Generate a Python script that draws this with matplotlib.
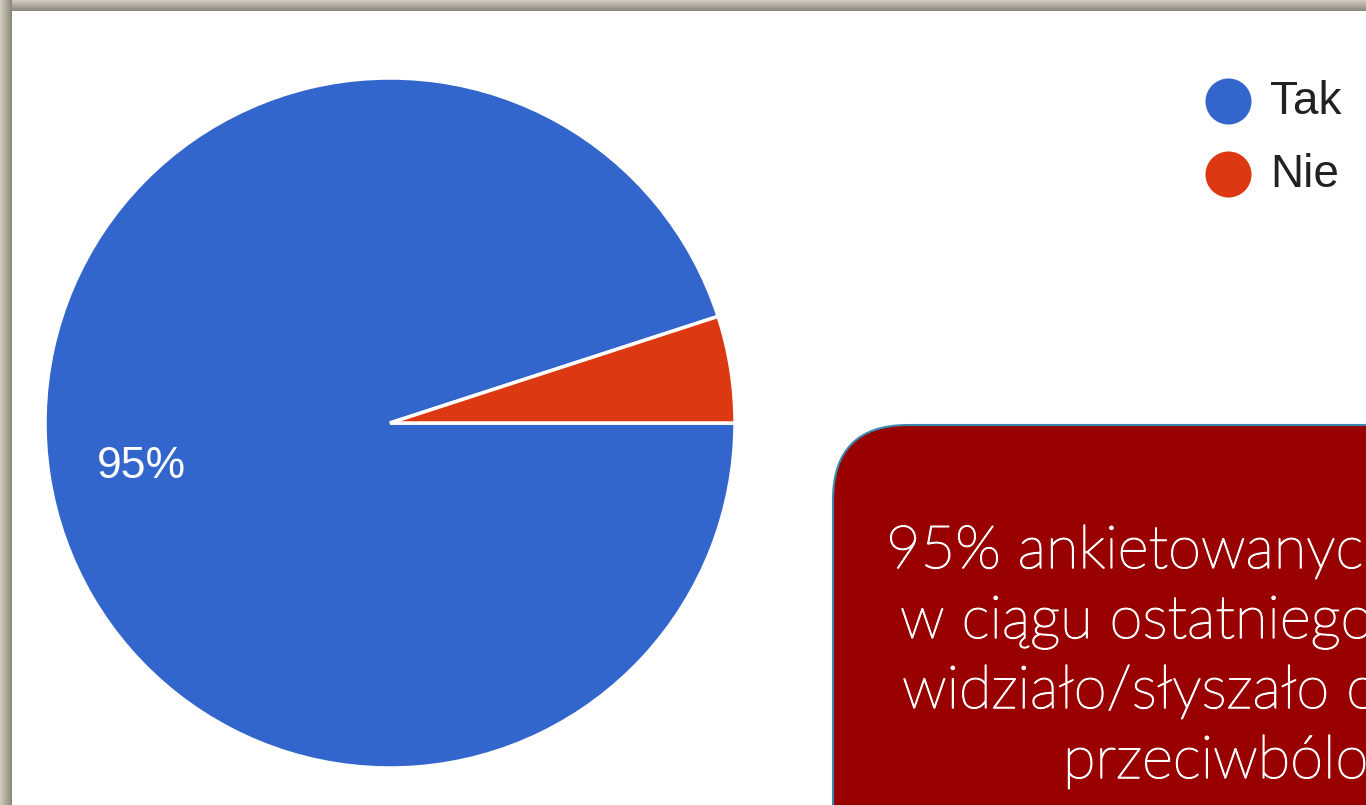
import matplotlib.pyplot as plt
import matplotlib.patheffects as pe
import numpy as np
from matplotlib.patches import FancyBboxPatch, Rectangle

labels = ['Tak', 'Nie']
values = [95, 5]
colors = ['#3366CC', '#DC3912']

box_lines = ['95% ankietowanych uczniów',
             'w ciągu ostatniego roku',
             'widziało/słyszało o lekach',
             'przeciwbólowych']
box_x = [886, 900, 902, 1063]

W, H = 1366, 805
fig = plt.figure(figsize=(W / 100, H / 100), dpi=100)
fig.patch.set_facecolor('white')

# full-figure axes in pixel units for the frame, legend and text box
bg = fig.add_axes([0, 0, 1, 1])
bg.set_xlim(0, W)
bg.set_ylim(H, 0)
bg.axis('off')

# shadowed frame along the top and left edges
grad = np.linspace(0, 1, 64)
shade = plt.matplotlib.colors.LinearSegmentedColormap.from_list(
    'shade', ['#D2CDC0', '#8A867A'])
bg.imshow(grad[:, None], cmap=shade, extent=(0, W, 11, 0), aspect='auto', zorder=1)
bg.imshow(grad[None, :], cmap=shade, extent=(0, 12, H, 0), aspect='auto', zorder=1)
bg.add_patch(Rectangle((12, 11), W, H, facecolor='white', edgecolor='none', zorder=2))

# legend
for i, (lab, col) in enumerate(zip(labels, colors)):
    y = 101 + i * 73
    bg.scatter([1228], [y], s=1100, color=col, zorder=3, linewidths=0)
    bg.text(1270, y + 1, lab, fontsize=33, color='#222222', va='center',
            family=['Liberation Sans', 'DejaVu Sans'], zorder=3)

# red summary box running off the bottom-right corner
bg.add_patch(FancyBboxPatch((833, 425), 700, 500,
                            boxstyle='round,pad=0,rounding_size=75',
                            facecolor='#990000', edgecolor='#3A8AB0',
                            linewidth=1.5, zorder=3))
thicken = [pe.Stroke(linewidth=1.0, foreground='white'), pe.Normal()]
for i, (line, x) in enumerate(zip(box_lines, box_x)):
    bg.text(x, 568 + i * 70, line, fontsize=43, color='white', ha='left',
            va='baseline', family=['Lato', 'DejaVu Sans'], weight='light',
            path_effects=thicken, zorder=4)

# pie
ax = fig.add_axes([45 / W, (H - 768) / H, 690 / W, 690 / H])


def pct(p):
    return f'{p:.0f}%' if p > 10 else ''


wedges, texts, autotexts = ax.pie(
    values, colors=colors, startangle=0, counterclock=False,
    autopct=pct, pctdistance=0.73,
    wedgeprops=dict(edgecolor='white', linewidth=2.5),
    textprops=dict(color='white', fontsize=32,
                   family=['Liberation Sans', 'DejaVu Sans']))
for t in autotexts:
    t.set_va('center_baseline')
ax.set_xlim(-1, 1)
ax.set_ylim(-1, 1)

fig.savefig('out.png', dpi=100)
